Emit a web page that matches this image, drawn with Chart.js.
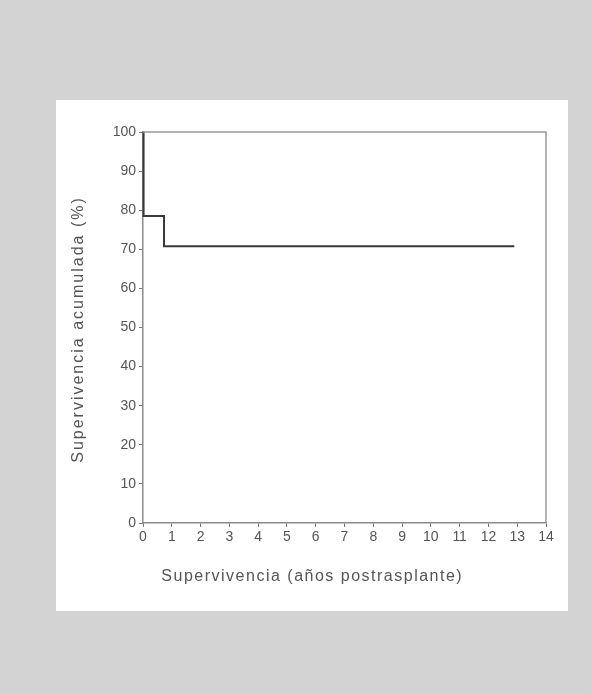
<!DOCTYPE html>
<html>
<head>
<meta charset="utf-8">
<script src="https://cdn.jsdelivr.net/npm/chart.js@4/dist/chart.umd.min.js"></script>
<style>
    html, body { margin: 0; padding: 0; background: #d3d3d3; }
    body { width: 591px; height: 693px; position: relative; overflow: hidden; }
    #panel { position: absolute; left: 56px; top: 100px; width: 512px; height: 511px; background: #fff; }
    #panel canvas { display: block; }
</style>
</head>
<body>
<div id="panel"><canvas id="kmChart" width="512" height="511"></canvas></div>
<script>
// Kaplan-Meier survival
const years = [0, 0.02, 0.73, 12.9];
const survival = [100, 78.5, 70.8, 70.8];
const xTickMax = 14;
const yTickMax = 100;
const xTitle = 'Supervivencia (años postrasplante)';
const yTitle = 'Supervivencia acumulada (%)';

const fontFamily = '"Liberation Sans", Arial, sans-serif';

// frame on top/right plus hand-placed axis titles (the scan's text is wide-spaced)
const framePlugin = {
    id: 'frame',
    afterDraw(chart) {
        const { ctx, chartArea: a } = chart;
        ctx.save();
        ctx.strokeStyle = '#9a9a9a';
        ctx.lineWidth = 1.5;
        ctx.beginPath();
        ctx.moveTo(a.left, a.top);
        ctx.lineTo(a.right, a.top);
        ctx.lineTo(a.right, a.bottom);
        ctx.stroke();

        ctx.fillStyle = '#555';
        ctx.font = '16px ' + fontFamily;
        ctx.textAlign = 'center';
        ctx.textBaseline = 'middle';
        ctx.letterSpacing = '1.5px';
        ctx.fillText(xTitle, a.left + (a.right - a.left) * 0.42, a.bottom + 54);

        ctx.letterSpacing = '2px';
        ctx.translate(a.left - 64, (a.top + a.bottom) / 2 + 2);
        ctx.rotate(-Math.PI / 2);
        ctx.fillText(yTitle, 0, 0);
        ctx.restore();
    }
};

const ctx = document.getElementById('kmChart').getContext('2d');
const chart = new Chart(ctx, {
    type: 'line',
    data: {
        datasets: [{
            data: years.map((x, i) => ({ x: x, y: survival[i] })),
            borderColor: '#3a3a3a',
            borderWidth: 2,
            stepped: 'before',
            pointRadius: 0,
            fill: false,
            clip: false
        }]
    },
    options: {
        responsive: false,
        animation: false,
        layout: { padding: { top: 32, right: 22, left: 0, bottom: 0 } },
        plugins: {
            legend: { display: false },
            tooltip: { enabled: false }
        },
        scales: {
            x: {
                type: 'linear',
                min: 0,
                max: xTickMax,
                afterFit: (scale) => { scale.height = 88; },
                ticks: {
                    stepSize: 1,
                    color: '#555',
                    font: { family: fontFamily, size: 14 },
                    padding: 2,
                    maxRotation: 0
                },
                grid: { drawOnChartArea: false, tickLength: 4, color: '#777' },
                border: { color: '#8a8a8a', width: 1.5 }
            },
            y: {
                type: 'linear',
                min: 0,
                max: yTickMax,
                afterFit: (scale) => { scale.width = 87; },
                ticks: {
                    stepSize: 10,
                    color: '#555',
                    font: { family: fontFamily, size: 14 },
                    padding: 3
                },
                grid: { drawOnChartArea: false, tickLength: 4, color: '#777' },
                border: { color: '#8a8a8a', width: 1.5 }
            }
        }
    },
    plugins: [framePlugin]
});
</script>
</body>
</html>
